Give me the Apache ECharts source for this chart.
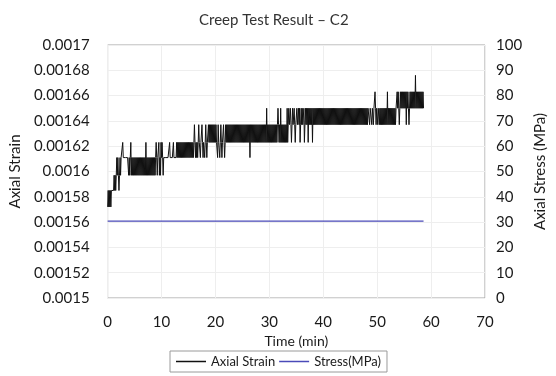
<!DOCTYPE html>
<html>
<head>
<meta charset="utf-8">
<script src="https://cdn.jsdelivr.net/npm/echarts@6/dist/echarts.min.js"></script>
<style>
  html, body { margin: 0; padding: 0; background: #fff; }
  #chart { width: 556px; height: 376px; }
</style>
</head>
<body>
<div id="chart"></div>
<script>
// Creep test C2: axial strain (logged every 0.1 min) and applied stress.
const sampleStep = 0.1; // minutes between strain readings

// Quantised strain levels the gauge reports.
const strainLevels = [0.001572, 0.001585, 0.001597, 0.001611, 0.001623, 0.001637, 0.00165, 0.001663, 0.001676];

// Strain readings as indices into strainLevels, one row per 5 minutes.
const strainRows = [
  "01010101" + "1111" + "2121232321232" + "33343333333333232" + "34232323",
  "23232323232323232323" + "24" + "2323232323232323" + "234323342324",
  "34323" + "3333333333433333343333" + "34343434343434343434343",
  "43434343434" + "5" + "4343434" + "5" + "4434454344345434454" + "54545454545",
  "4544354434543445434545" + "4545454545454545454545454545",
  "45454545454545" + "3" + "5" + "45454545454545454545454545454" + "6" + "4545",
  "4545454545454545" + "6" + "5454" + "6" + "45454545454" + "6" + "4" + "565565456556545",
  "56556564565655645656" + "56" + "4" + "6565656" + "4" + "6565656565656565656",
  "56565656565656565656565656565656565656565656565656",
  "5656565656565656565656565656565656" + "6656665665667656",
  "656656" + "5656565656565" + "7" + "5656565656565656" + "67676" + "5" + "67676767",
  "6767" + "5" + "7676" + "5" + "67676767676" + "8" + "676767676767676"
];

// Applied stress (MPa) over the test.
const stressTime = [0, 57.6, 57.8, 58.1, 58.6];
const stressValue = [30.4, 30.4, 30.9, 30.4, 30.4];

// Axis ranges and ticks.
const timeTicks = { min: 0, max: 70, interval: 10 };
const strainTicks = { min: 0.0015, max: 0.0017, interval: 0.00002 };
const stressTicks = { min: 0, max: 100, interval: 10 };

const codes = strainRows.join("");
const strainData = [];
for (let i = 0; i < codes.length; i++) {
  strainData.push([+(i * sampleStep).toFixed(1), strainLevels[+codes[i]]]);
}
const stressData = stressTime.map((t, i) => [t, stressValue[i]]);

const font = 'Lato';
const ink = '#1a1a1a';

const chart = echarts.init(document.getElementById('chart'), null, { renderer: 'canvas' });
chart.setOption({
  animation: false,
  backgroundColor: '#fff',
  title: {
    text: 'Creep Test Result \u2013 C2',
    left: 194,
    top: 8,
    textStyle: { fontFamily: font, fontSize: 15, fontWeight: 'normal', color: '#333' }
  },
  grid: {
    left: 101, right: 57, top: 45, bottom: 78,
    show: true, borderColor: '#a3a3a3', borderWidth: 1, backgroundColor: 'transparent'
  },
  legend: {
    left: 170, top: 351,
    padding: [4, 6],
    itemGap: 4,
    itemWidth: 30,
    itemHeight: 1.5,
    icon: 'rect',
    borderColor: '#9a9a9a',
    borderWidth: 1,
    textStyle: { fontFamily: font, fontSize: 13, color: ink },
    data: ['Axial Strain', 'Stress(MPa)']
  },
  xAxis: {
    type: 'value',
    min: timeTicks.min, max: timeTicks.max, interval: timeTicks.interval,
    name: 'Time (min)', nameLocation: 'middle', nameGap: 35,
    nameTextStyle: { fontFamily: font, fontSize: 14, color: ink },
    axisLine: { show: false }, axisTick: { show: false },
    axisLabel: { fontFamily: font, fontSize: 15, color: ink, margin: 17 },
    splitLine: { show: true, lineStyle: { color: '#eeeeee', width: 1 } }
  },
  yAxis: [
    {
      type: 'value',
      min: strainTicks.min, max: strainTicks.max, interval: strainTicks.interval,
      name: 'Axial Strain', nameLocation: 'middle', nameGap: 73,
      nameTextStyle: { fontFamily: font, fontSize: 15, color: ink },
      axisLine: { show: false }, axisTick: { show: false },
      axisLabel: {
        fontFamily: font, fontSize: 15, color: ink, margin: 18,
        formatter: v => String(Number(v.toFixed(6)))
      },
      splitLine: { show: true, lineStyle: { color: '#eeeeee', width: 1 } }
    },
    {
      type: 'value',
      min: stressTicks.min, max: stressTicks.max, interval: stressTicks.interval,
      name: 'Axial Stress (MPa)', nameLocation: 'middle', nameGap: 38,
      nameTextStyle: { fontFamily: font, fontSize: 15, color: ink },
      axisLine: { show: false }, axisTick: { show: false },
      axisLabel: { fontFamily: font, fontSize: 15, color: ink, margin: 11 },
      splitLine: { show: false }
    }
  ],
  series: [
    {
      name: 'Axial Strain',
      type: 'line',
      yAxisIndex: 0,
      step: 'end',
      data: strainData,
      symbol: 'none',
      sampling: null,
      lineStyle: { color: '#111', width: 1 },
      itemStyle: { color: '#111' }
    },
    {
      name: 'Stress(MPa)',
      type: 'line',
      yAxisIndex: 1,
      data: stressData,
      symbol: 'none',
      lineStyle: { color: '#4a4ab8', width: 1.3 },
      itemStyle: { color: '#4a4ab8' }
    }
  ]
});
</script>
</body>
</html>
